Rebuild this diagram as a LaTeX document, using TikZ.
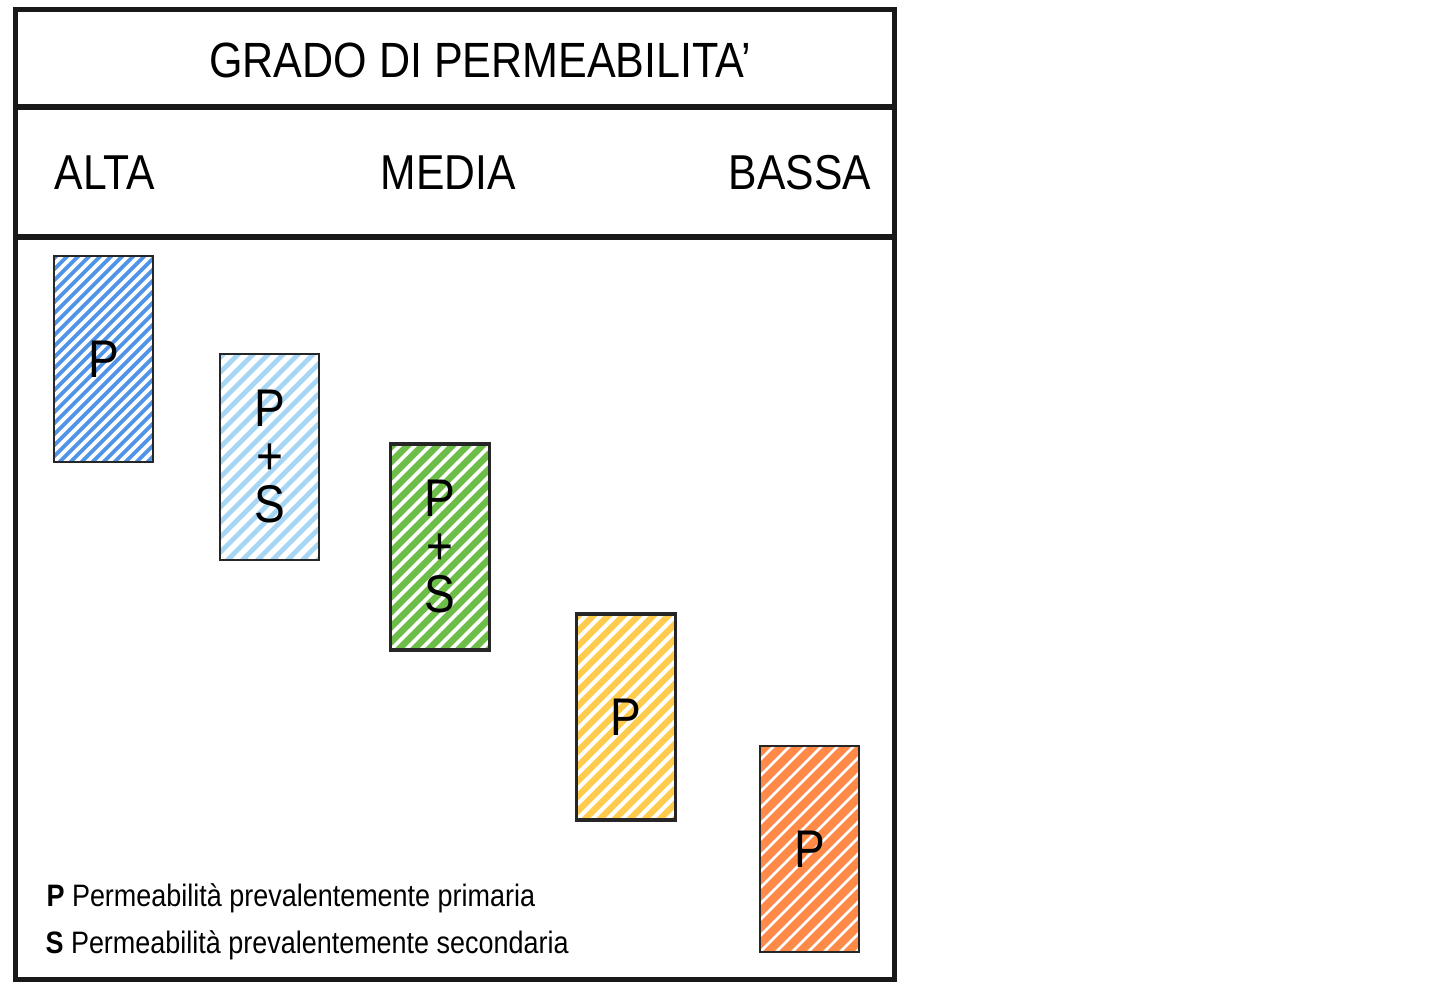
\documentclass[tikz,border=0pt]{standalone}
\usepackage{fontspec}
\setmainfont{Liberation Sans}[FakeStretch=0.87]
\usetikzlibrary{positioning}
\definecolor{bluP}{RGB}{80,148,232}
\definecolor{azzurroPS}{RGB}{166,214,244}
\definecolor{verdePS}{RGB}{108,190,72}
\definecolor{gialloP}{RGB}{255,204,77}
\definecolor{arancioP}{RGB}{255,138,72}
\tikzset{
    perm/.style={
        draw=black!85,
        line width=1.2pt,
        minimum width=99pt,
        minimum height=206pt,
        inner sep=0pt,
        align=center,
        font=\fontsize{53}{48}\selectfont
    },
    strisce/.style n args={3}{
        fill=#1,
        path picture={
            \foreach \k in {-30,...,16}
              \draw[white, line width=#3] ([xshift=\k*#2]path picture bounding box.south west) -- ++(300pt,300pt);
        }
    },
    grado/.style={
        font=\fontsize{49}{55}\selectfont
    },
    legenda/.style={
        anchor=west,
        font=\fontsize{31}{35}\selectfont
    }
}

\begin{document}
\begin{tikzpicture}[x=1pt,y=-1pt]
  \useasboundingbox (0,0) rectangle (1438,989);

  % cornice e righe
  \draw[line width=5pt, black!90] (15.5,9.5) rectangle (894.5,979.5);
  \draw[line width=6pt, black!90] (15.5,107) -- (894.5,107);
  \draw[line width=6pt, black!90] (15.5,236.5) -- (894.5,236.5);

  \node at (480,60) (titolo) {\fontsize{49.5}{54}\selectfont GRADO DI PERMEABILITA’};
  \node[grado] at (105,173) (alta) {ALTA};
  \node[grado] at (448,173) (media) {MEDIA};
  \node[grado] at (800,173) (bassa) {BASSA};

  \node[perm, strisce={bluP}{11pt}{3.8pt}] at (103.5,359) (blu) {P};
  \node[perm, strisce={azzurroPS}{15pt}{5.5pt}] at (269.5,457) (azzurro) {P\\+\\S};
  \node[perm, line width=3.5pt, strisce={verdePS}{15pt}{3.8pt}] at (440,547) (verde) {P\\+\\S};
  \node[perm, line width=3.5pt, strisce={gialloP}{15pt}{4pt}] at (626,717) (giallo) {P};
  \node[perm, strisce={arancioP}{16pt}{2.6pt}] at (809.5,849) (arancio) {P};

  % legenda
  \node[legenda] at (43,898) (legP) {\textbf{P} Permeabilità prevalentemente primaria};
  \node[legenda] at (42,945) (legS) {\textbf{S} Permeabilità prevalentemente secondaria};
\end{tikzpicture}
\end{document}
